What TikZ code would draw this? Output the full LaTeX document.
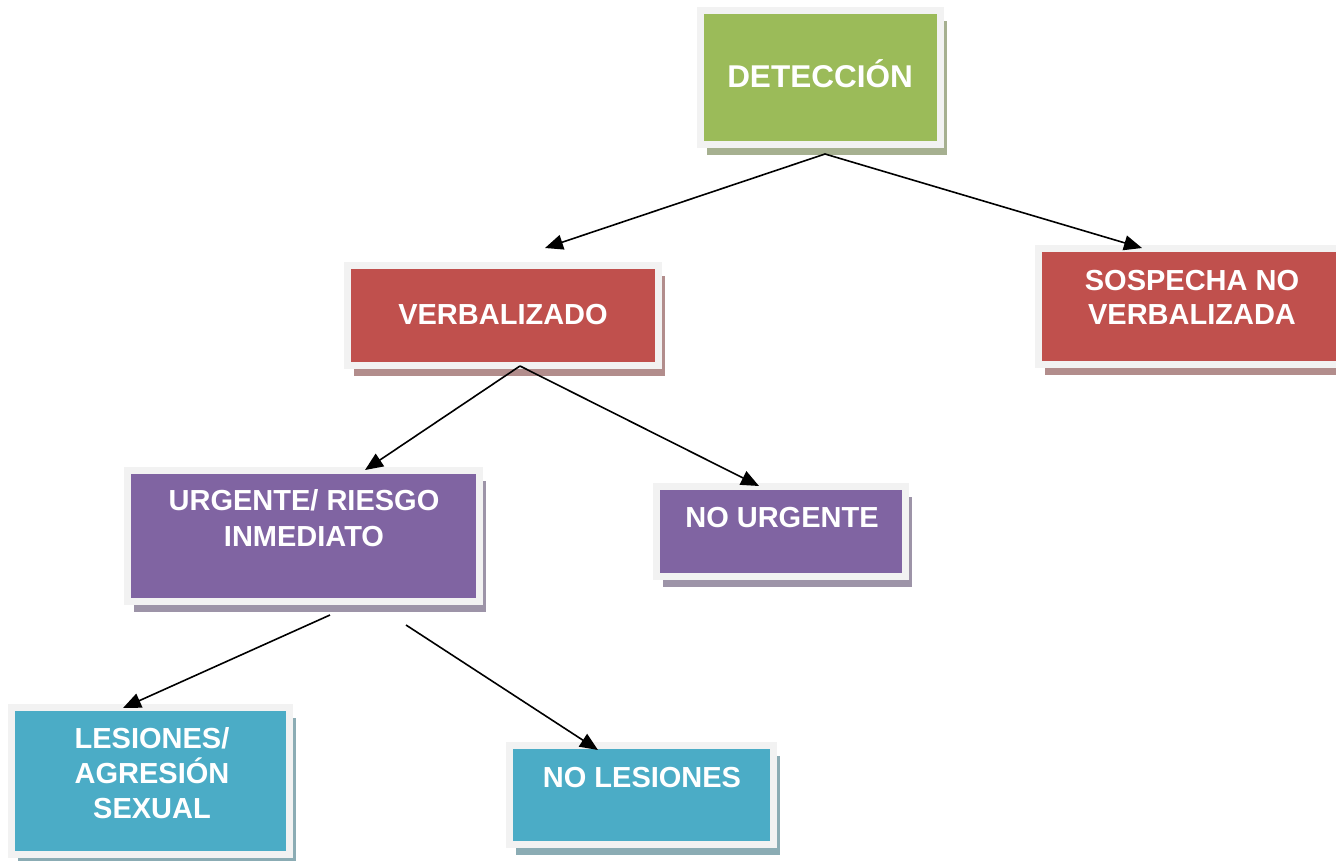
\documentclass[tikz,border=0pt]{standalone}
\usepackage{fontspec}
\setmainfont{Liberation Sans}
\usetikzlibrary{arrows.meta,shadows}
\definecolor{cgreen}{HTML}{9BBB59}
\definecolor{cred}{HTML}{C0504D}
\definecolor{cpurple}{HTML}{8064A2}
\definecolor{cteal}{HTML}{4BACC6}
\definecolor{framegray}{HTML}{F2F2F2}
\tikzset{
  fbox/.style={draw=framegray, line width=7pt, fill=#1, inner sep=0pt, outer sep=0pt,
    drop shadow={shadow xshift=6.5pt, shadow yshift=-10.5pt, fill=#1!60!black!55!white, opacity=1}},
  lbl/.style={text=white, font=\bfseries\fontsize{29}{34}\selectfont, anchor=base, inner sep=0pt},
  conn/.style={line width=1.6pt, -{Triangle[length=18pt,width=15pt]}}
}
\begin{document}
\begin{tikzpicture}[x=1pt,y=-1pt]
\useasboundingbox (0,0) rectangle (1336,860);
\clip (0,0) rectangle (1336,860);
% boxes
\node[fbox=cgreen, minimum width=240pt, minimum height=134pt] (det) at (820.5,77.5) {};
\node[fbox=cred, minimum width=311pt, minimum height=100pt] (verb) at (503,315.5) {};
\node[fbox=cred, minimum width=307pt, minimum height=116pt] (sosp) at (1192,306.5) {};
\node[fbox=cpurple, minimum width=352pt, minimum height=131pt] (urg) at (303.5,536) {};
\node[fbox=cpurple, minimum width=249pt, minimum height=90pt] (nourg) at (781,531.5) {};
\node[fbox=cteal, minimum width=278pt, minimum height=147pt] (les) at (150.5,781) {};
\node[fbox=cteal, minimum width=264pt, minimum height=99pt] (noles) at (641.5,795) {};
% texts
\node[lbl, font=\bfseries\fontsize{31.5}{36}\selectfont] (tdet) at (820,87) {DETECCIÓN};
\node[lbl] (tverb) at (503,324) {VERBALIZADO};
\node[lbl] (tsosp1) at (1192,290) {SOSPECHA NO};
\node[lbl] (tsosp2) at (1192,324) {VERBALIZADA};
\node[lbl] (turg1) at (304,510) {URGENTE/ RIESGO};
\node[lbl] (turg2) at (304,546) {INMEDIATO};
\node[lbl] (tnourg) at (782,527) {NO URGENTE};
\node[lbl] (tles1) at (152,748) {LESIONES/};
\node[lbl] (tles2) at (152,783) {AGRESIÓN};
\node[lbl] (tles3) at (152,818) {SEXUAL};
\node[lbl] (tnoles) at (642,787) {NO LESIONES};
% connector ends
\coordinate (detout) at (825,154);
\coordinate (verbin) at (545,248);
\coordinate (sospin) at (1142,248);
\coordinate (verbout) at (520,366);
\coordinate (urgin) at (365,470);
\coordinate (nourgin) at (759,486);
\coordinate (urgoutA) at (330,615);
\coordinate (urgoutB) at (406,625);
\coordinate (lesin) at (123,708);
\coordinate (nolesin) at (598,750);
% connectors
\draw[conn] (detout) -- (verbin);
\draw[conn] (detout) -- (sospin);
\draw[conn] (verbout) -- (urgin);
\draw[conn] (verbout) -- (nourgin);
\draw[conn] (urgoutA) -- (lesin);
\draw[conn] (urgoutB) -- (nolesin);
\end{tikzpicture}
\end{document}
